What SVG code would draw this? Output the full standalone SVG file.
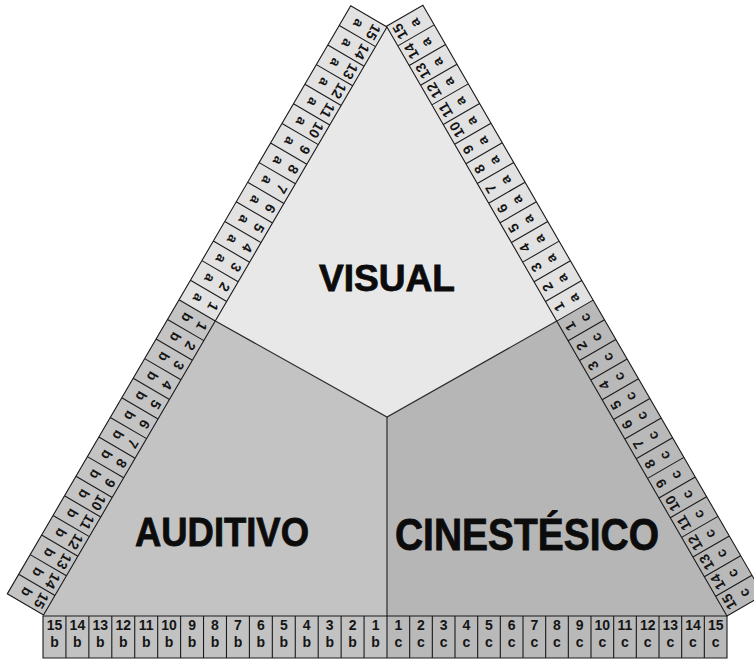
<svg xmlns="http://www.w3.org/2000/svg" width="754" height="660" viewBox="0 0 754 660">
<style>
.ca{fill:#e2e2e2}
.cb{fill:#c4c4c4}
.cc{fill:#b9b9b9}
.grid{fill:none;stroke:#1a1a1a;stroke-width:1.1}
.t{font-family:"Liberation Sans",Arial,sans-serif;font-size:14px;font-weight:bold;text-anchor:middle;fill:#151515}
.big{font-family:"Liberation Sans",Arial,sans-serif;font-weight:bold;fill:#0c0c0c;stroke:#0c0c0c;stroke-width:0.8;text-anchor:middle}
.div{fill:none;stroke:#2a2a2a;stroke-width:1.2}
</style>
<rect width="754" height="660" fill="#ffffff"/>

<g id="region-visual">
<polygon points="387,27 215.3,321 387,417 556.75,321.1" fill="#e8e8e8"/>
<text class="big" x="387" y="291" font-size="36" textLength="136" lengthAdjust="spacingAndGlyphs">VISUAL</text>
</g>
<g id="region-auditivo">
<polygon points="215.3,321 43,616 387,616 387,417" fill="#c3c3c3"/>
<text class="big" x="222" y="546" font-size="40" textLength="174" lengthAdjust="spacingAndGlyphs">AUDITIVO</text>
</g>
<g id="region-cinestesico">
<polygon points="387,417 387,616 727,616 556.75,321.1" fill="#b6b6b6"/>
<text class="big" x="527" y="550" font-size="44" textLength="264" lengthAdjust="spacingAndGlyphs">CINESTÉSICO</text>
</g>

<g id="connectors">
<polyline class="div" points="215.3,321 387,417 556.75,321.1"/>
<line class="div" x1="387" y1="417" x2="387" y2="616"/>
</g>

<g id="strip-left" transform="translate(387 27) rotate(120.29)">
<rect class="ca" x="0" y="0" width="340.5" height="42"/>
<rect class="cb" x="340.5" y="0" width="340.5" height="42"/>
<path class="grid" d="M0 0H681V42H0Z M22.7 0V42M45.4 0V42M68.1 0V42M90.8 0V42M113.5 0V42M136.2 0V42M158.9 0V42M181.6 0V42M204.3 0V42M227 0V42M249.7 0V42M272.4 0V42M295.1 0V42M317.8 0V42M340.5 0V42M363.2 0V42M385.9 0V42M408.6 0V42M431.3 0V42M454 0V42M476.7 0V42M499.4 0V42M522.1 0V42M544.8 0V42M567.5 0V42M590.2 0V42M612.9 0V42M635.6 0V42M658.3 0V42"/>
<g class="t">
<text x="11.35" y="14">15</text><text x="11.35" y="31">a</text>
<text x="34.05" y="14">14</text><text x="34.05" y="31">a</text>
<text x="56.75" y="14">13</text><text x="56.75" y="31">a</text>
<text x="79.45" y="14">12</text><text x="79.45" y="31">a</text>
<text x="102.15" y="14">11</text><text x="102.15" y="31">a</text>
<text x="124.85" y="14">10</text><text x="124.85" y="31">a</text>
<text x="147.55" y="14">9</text><text x="147.55" y="31">a</text>
<text x="170.25" y="14">8</text><text x="170.25" y="31">a</text>
<text x="192.95" y="14">7</text><text x="192.95" y="31">a</text>
<text x="215.65" y="14">6</text><text x="215.65" y="31">a</text>
<text x="238.35" y="14">5</text><text x="238.35" y="31">a</text>
<text x="261.05" y="14">4</text><text x="261.05" y="31">a</text>
<text x="283.75" y="14">3</text><text x="283.75" y="31">a</text>
<text x="306.45" y="14">2</text><text x="306.45" y="31">a</text>
<text x="329.15" y="14">1</text><text x="329.15" y="31">a</text>
<text x="351.85" y="14">1</text><text x="351.85" y="31">b</text>
<text x="374.55" y="14">2</text><text x="374.55" y="31">b</text>
<text x="397.25" y="14">3</text><text x="397.25" y="31">b</text>
<text x="419.95" y="14">4</text><text x="419.95" y="31">b</text>
<text x="442.65" y="14">5</text><text x="442.65" y="31">b</text>
<text x="465.35" y="14">6</text><text x="465.35" y="31">b</text>
<text x="488.05" y="14">7</text><text x="488.05" y="31">b</text>
<text x="510.75" y="14">8</text><text x="510.75" y="31">b</text>
<text x="533.45" y="14">9</text><text x="533.45" y="31">b</text>
<text x="556.15" y="14">10</text><text x="556.15" y="31">b</text>
<text x="578.85" y="14">11</text><text x="578.85" y="31">b</text>
<text x="601.55" y="14">12</text><text x="601.55" y="31">b</text>
<text x="624.25" y="14">13</text><text x="624.25" y="31">b</text>
<text x="646.95" y="14">14</text><text x="646.95" y="31">b</text>
<text x="669.65" y="14">15</text><text x="669.65" y="31">b</text>
</g>
</g>

<g id="strip-right" transform="translate(727 616) rotate(-120)">
<rect class="cc" x="0" y="0" width="340.5" height="42"/>
<rect class="ca" x="340.5" y="0" width="340.5" height="42"/>
<path class="grid" d="M0 0H681V42H0Z M22.7 0V42M45.4 0V42M68.1 0V42M90.8 0V42M113.5 0V42M136.2 0V42M158.9 0V42M181.6 0V42M204.3 0V42M227 0V42M249.7 0V42M272.4 0V42M295.1 0V42M317.8 0V42M340.5 0V42M363.2 0V42M385.9 0V42M408.6 0V42M431.3 0V42M454 0V42M476.7 0V42M499.4 0V42M522.1 0V42M544.8 0V42M567.5 0V42M590.2 0V42M612.9 0V42M635.6 0V42M658.3 0V42"/>
<g class="t">
<text x="11.35" y="14">15</text><text x="11.35" y="31">c</text>
<text x="34.05" y="14">14</text><text x="34.05" y="31">c</text>
<text x="56.75" y="14">13</text><text x="56.75" y="31">c</text>
<text x="79.45" y="14">12</text><text x="79.45" y="31">c</text>
<text x="102.15" y="14">11</text><text x="102.15" y="31">c</text>
<text x="124.85" y="14">10</text><text x="124.85" y="31">c</text>
<text x="147.55" y="14">9</text><text x="147.55" y="31">c</text>
<text x="170.25" y="14">8</text><text x="170.25" y="31">c</text>
<text x="192.95" y="14">7</text><text x="192.95" y="31">c</text>
<text x="215.65" y="14">6</text><text x="215.65" y="31">c</text>
<text x="238.35" y="14">5</text><text x="238.35" y="31">c</text>
<text x="261.05" y="14">4</text><text x="261.05" y="31">c</text>
<text x="283.75" y="14">3</text><text x="283.75" y="31">c</text>
<text x="306.45" y="14">2</text><text x="306.45" y="31">c</text>
<text x="329.15" y="14">1</text><text x="329.15" y="31">c</text>
<text x="351.85" y="14">1</text><text x="351.85" y="31">a</text>
<text x="374.55" y="14">2</text><text x="374.55" y="31">a</text>
<text x="397.25" y="14">3</text><text x="397.25" y="31">a</text>
<text x="419.95" y="14">4</text><text x="419.95" y="31">a</text>
<text x="442.65" y="14">5</text><text x="442.65" y="31">a</text>
<text x="465.35" y="14">6</text><text x="465.35" y="31">a</text>
<text x="488.05" y="14">7</text><text x="488.05" y="31">a</text>
<text x="510.75" y="14">8</text><text x="510.75" y="31">a</text>
<text x="533.45" y="14">9</text><text x="533.45" y="31">a</text>
<text x="556.15" y="14">10</text><text x="556.15" y="31">a</text>
<text x="578.85" y="14">11</text><text x="578.85" y="31">a</text>
<text x="601.55" y="14">12</text><text x="601.55" y="31">a</text>
<text x="624.25" y="14">13</text><text x="624.25" y="31">a</text>
<text x="646.95" y="14">14</text><text x="646.95" y="31">a</text>
<text x="669.65" y="14">15</text><text x="669.65" y="31">a</text>
</g>
</g>

<g id="strip-bottom">
<rect x="43" y="616" width="344" height="42" fill="#c2c2c2"/>
<rect x="387" y="616" width="340" height="42" fill="#b9b9b9"/>
<path class="grid" d="M43 616H727V658H43Z M65.93 616V658M88.87 616V658M111.8 616V658M134.73 616V658M157.67 616V658M180.6 616V658M203.53 616V658M226.47 616V658M249.4 616V658M272.33 616V658M295.27 616V658M318.2 616V658M341.13 616V658M364.07 616V658M387 616V658M409.67 616V658M432.33 616V658M455 616V658M477.67 616V658M500.33 616V658M523 616V658M545.67 616V658M568.33 616V658M591 616V658M613.67 616V658M636.33 616V658M659 616V658M681.67 616V658M704.33 616V658"/>
<g class="t">
<text x="54.47" y="630">15</text><text x="54.47" y="647">b</text>
<text x="77.4" y="630">14</text><text x="77.4" y="647">b</text>
<text x="100.33" y="630">13</text><text x="100.33" y="647">b</text>
<text x="123.27" y="630">12</text><text x="123.27" y="647">b</text>
<text x="146.2" y="630">11</text><text x="146.2" y="647">b</text>
<text x="169.13" y="630">10</text><text x="169.13" y="647">b</text>
<text x="192.07" y="630">9</text><text x="192.07" y="647">b</text>
<text x="215" y="630">8</text><text x="215" y="647">b</text>
<text x="237.93" y="630">7</text><text x="237.93" y="647">b</text>
<text x="260.87" y="630">6</text><text x="260.87" y="647">b</text>
<text x="283.8" y="630">5</text><text x="283.8" y="647">b</text>
<text x="306.73" y="630">4</text><text x="306.73" y="647">b</text>
<text x="329.67" y="630">3</text><text x="329.67" y="647">b</text>
<text x="352.6" y="630">2</text><text x="352.6" y="647">b</text>
<text x="375.53" y="630">1</text><text x="375.53" y="647">b</text>
<text x="398.33" y="630">1</text><text x="398.33" y="647">c</text>
<text x="421" y="630">2</text><text x="421" y="647">c</text>
<text x="443.67" y="630">3</text><text x="443.67" y="647">c</text>
<text x="466.33" y="630">4</text><text x="466.33" y="647">c</text>
<text x="489" y="630">5</text><text x="489" y="647">c</text>
<text x="511.67" y="630">6</text><text x="511.67" y="647">c</text>
<text x="534.33" y="630">7</text><text x="534.33" y="647">c</text>
<text x="557" y="630">8</text><text x="557" y="647">c</text>
<text x="579.67" y="630">9</text><text x="579.67" y="647">c</text>
<text x="602.33" y="630">10</text><text x="602.33" y="647">c</text>
<text x="625" y="630">11</text><text x="625" y="647">c</text>
<text x="647.67" y="630">12</text><text x="647.67" y="647">c</text>
<text x="670.33" y="630">13</text><text x="670.33" y="647">c</text>
<text x="693" y="630">14</text><text x="693" y="647">c</text>
<text x="715.67" y="630">15</text><text x="715.67" y="647">c</text>
</g>
</g>
</svg>
